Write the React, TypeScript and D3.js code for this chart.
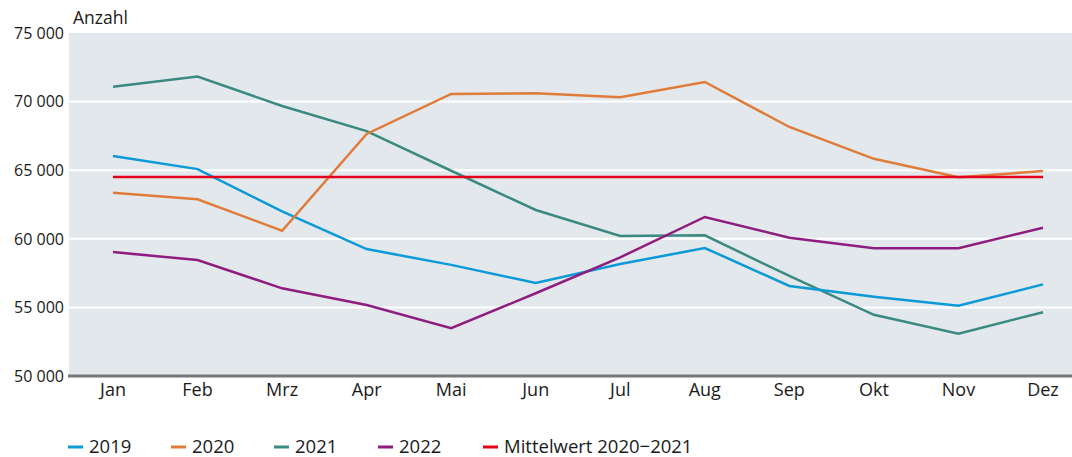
import React from "react";
import * as d3 from "d3";

const months = ["Jan", "Feb", "Mrz", "Apr", "Mai", "Jun", "Jul", "Aug", "Sep", "Okt", "Nov", "Dez"];
const yTicks = [50000, 55000, 60000, 65000, 70000, 75000];

const v2019 = [66030, 65080, 62000, 59250, 58100, 56780, 58160, 59330, 56560, 55780, 55120, 56680];
const v2020 = [63360, 62880, 60590, 67640, 70560, 70600, 70320, 71430, 68150, 65830, 64480, 64940];
const v2021 = [71080, 71820, 69680, 67850, 64960, 62100, 60200, 60250, 57290, 54460, 53080, 54650];
const v2022 = [59030, 58450, 56390, 55180, 53480, 56030, 58650, 61590, 60080, 59320, 59320, 60810];
const mean = [64500, 64500, 64500, 64500, 64500, 64500, 64500, 64500, 64500, 64500, 64500, 64500];

const seriesNames = ["2019", "2020", "2021", "2022", "Mittelwert 2020\u22122021"];
const seriesColors = ["#0a9ad8", "#e07c3a", "#3b8a82", "#8f1d80", "#e2001a"];
const seriesValues = [v2019, v2020, v2021, v2022, mean];

const W = 1072;
const H = 457;
const plotLeft = 69;
const plotRight = 1072;
const plotTop = 33;
const plotBottom = 376;

const FONT = "'Open Sans', 'Noto Sans', sans-serif";

export default function App() {
  const x = d3.scalePoint<string>().domain(months).range([113, 1043]);
  const y = d3.scaleLinear().domain([50000, 75000]).range([plotBottom, plotTop]);
  const line = d3
    .line<number>()
    .x((_, i) => x(months[i]) as number)
    .y((d) => y(d));
  const fmt = (v: number) => d3.format(",")(v).replace(",", " ");

  const legendText = [89, 192, 295, 399, 504];
  const drawOrder = [2, 0, 1, 3, 4];

  return (
    <svg
      width={W}
      height={H}
      style={{ position: "absolute", left: 0, top: 0, display: "block" }}
      fontFamily={FONT}
    >
      <rect x={plotLeft} y={plotTop} width={plotRight - plotLeft} height={plotBottom - plotTop} fill="#e3e8ec" />
      {yTicks.slice(1, -1).map((t) => (
        <line key={t} x1={plotLeft} x2={plotRight} y1={y(t)} y2={y(t)} stroke="#ffffff" strokeWidth={2} />
      ))}
      {yTicks.map((t) => (
        <text key={"l" + t} x={64} y={y(t)} dy="0.36em" textAnchor="end" fontSize={16} fill="#1a1a1a">
          {fmt(t)}
        </text>
      ))}
      <text x={73} y={24} fontSize={17.5} fill="#1a1a1a">
        Anzahl
      </text>
      {drawOrder.map((si) => (
        <path
          key={seriesNames[si]}
          d={line(seriesValues[si]) as string}
          fill="none"
          stroke={seriesColors[si]}
          strokeWidth={2.5}
          strokeLinejoin="miter"
        />
      ))}
      <line x1={plotLeft - 1} x2={plotRight} y1={plotBottom} y2={plotBottom} stroke="#777777" strokeWidth={3} />
      {months.map((m) => (
        <text key={m} x={x(m)} y={396} textAnchor="middle" fontSize={18} fill="#1a1a1a">
          {m}
        </text>
      ))}
      {seriesNames.map((n, i) => (
        <g key={"lg" + n}>
          <line
            x1={legendText[i] - 21}
            x2={legendText[i] - 6}
            y1={447}
            y2={447}
            stroke={seriesColors[i]}
            strokeWidth={3}
          />
          <text x={legendText[i]} y={453} fontSize={18.5} fill="#1a1a1a">
            {n}
          </text>
        </g>
      ))}
    </svg>
  );
}
